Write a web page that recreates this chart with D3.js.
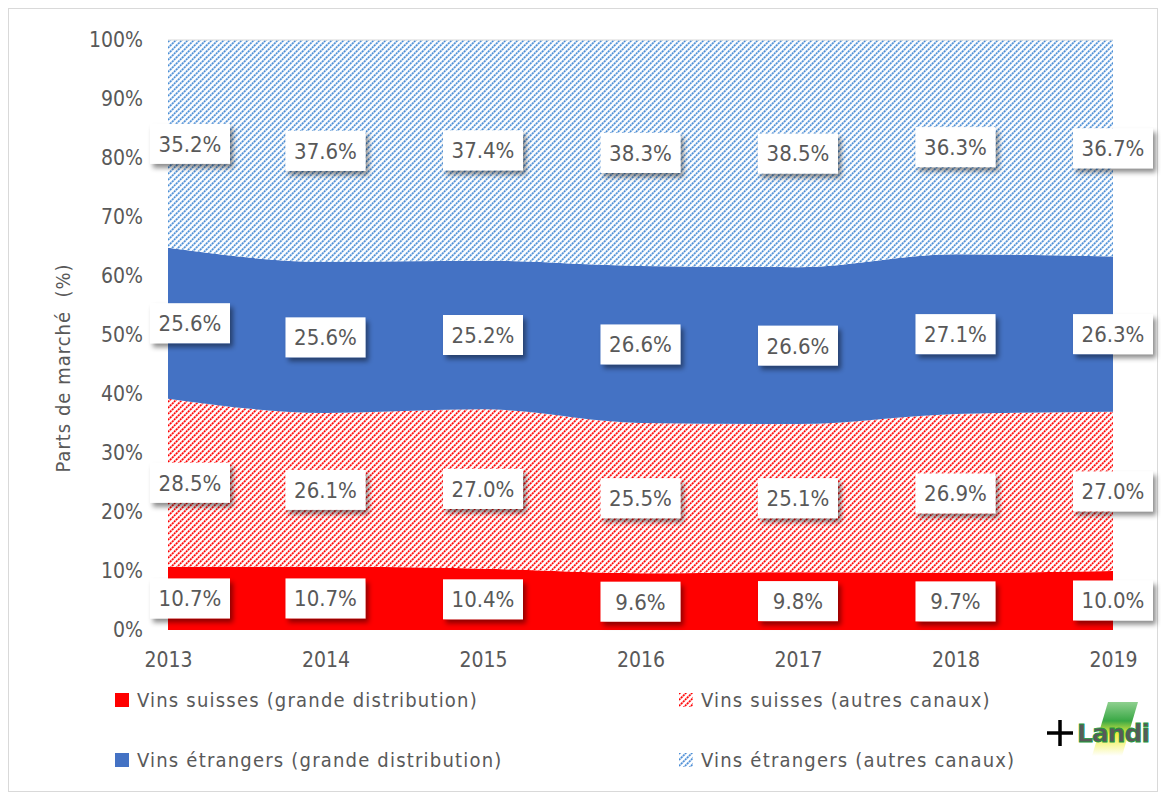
<!DOCTYPE html>
<html>
<head>
<meta charset="utf-8">
<script src="https://cdn.jsdelivr.net/npm/d3@7"></script>
<style>
  body { margin: 0; background: #fff; }
  svg text { font-family: "DejaVu Sans Condensed", "DejaVu Sans", sans-serif; fill: #595959; }
</style>
</head>
<body>
<svg width="1161" height="800"></svg>
<script>
// market share of wine in switzerland, stacked area

var years = ["2013", "2014", "2015", "2016", "2017", "2018", "2019"];
var suissesGrande = [10.7, 10.7, 10.4, 9.6, 9.8, 9.7, 10.0];
var suissesAutres = [28.5, 26.1, 27.0, 25.5, 25.1, 26.9, 27.0];
var etrangersGrande = [25.6, 25.6, 25.2, 26.6, 26.6, 27.1, 26.3];
var etrangersAutres = [35.2, 37.6, 37.4, 38.3, 38.5, 36.3, 36.7];
var seriesNames = ["Vins suisses (grande distribution)", "Vins suisses (autres canaux)",
                   "Vins étrangers (grande distribution)", "Vins étrangers (autres canaux)"];
var yTicks = [0, 10, 20, 30, 40, 50, 60, 70, 80, 90, 100];

var svg = d3.select("svg");

// outer frame
svg.append("rect")
    .attr("x", 8.5).attr("y", 8.5)
    .attr("width", 1149).attr("height", 783)
    .attr("fill", "none").attr("stroke", "#d9d9d9");

var defs = svg.append("defs");

function hatch(id, light, dark) {
    var p = defs.append("pattern")
        .attr("id", id)
        .attr("patternUnits", "userSpaceOnUse")
        .attr("width", 6).attr("height", 6);
    p.append("rect").attr("width", 6).attr("height", 6).attr("fill", "#fff");
    p.append("path")
        .attr("d", "M-1,1 L1,-1 M0,6 L6,0 M5,7 L7,5")
        .attr("stroke", light).attr("stroke-width", 2);
    p.append("path")
        .attr("d", "M0,6 L6,0")
        .attr("stroke", dark).attr("stroke-width", 1.6)
        .attr("stroke-dasharray", "1.5,1.5");
}
hatch("hRed", "#ff9a9a", "#ff0000");
hatch("hBlue", "#b4cfee", "#4a8fd6");

var shadow = defs.append("filter").attr("id", "shadow")
    .attr("x", "-20%").attr("y", "-20%").attr("width", "150%").attr("height", "160%");
shadow.append("feDropShadow")
    .attr("dx", 3).attr("dy", 4).attr("stdDeviation", 2.5)
    .attr("flood-color", "#000").attr("flood-opacity", 0.45);

var fills = ["#ff0000", "url(#hRed)", "#4472c4", "url(#hBlue)"];

// table for d3.stack
var keys = ["sg", "sa", "eg", "ea"];
var table = years.map(function(y, i) {
    return { year: y, sg: suissesGrande[i], sa: suissesAutres[i], eg: etrangersGrande[i], ea: etrangersAutres[i] };
});
var stacked = d3.stack().keys(keys)(table);

var x = d3.scalePoint().domain(years).range([168, 1113]);
var y = d3.scaleLinear().domain([0, 100]).range([630, 40]);

var area = d3.area()
    .x(function(d) { return x(d.data.year); })
    .y0(function(d) { return y(d[0]); })
    .y1(function(d) { return y(d[1]); })
    .curve(d3.curveMonotoneX);

svg.append("g").selectAll("path")
    .data(stacked)
    .enter().append("path")
    .attr("d", area)
    .attr("fill", function(d, i) { return fills[i]; });

// faint line at 100%
svg.append("line")
    .attr("x1", x(years[0])).attr("x2", x(years[years.length - 1]))
    .attr("y1", y(100)).attr("y2", y(100))
    .attr("stroke", "#d9d9d9");

// y axis
var yAxis = svg.append("g")
    .attr("transform", "translate(143,0)")
    .call(d3.axisLeft(y).tickValues(yTicks).tickSize(0).tickPadding(0)
        .tickFormat(function(d) { return d + "%"; }));
yAxis.select(".domain").remove();
yAxis.selectAll("text").style("font-size", "21px").attr("fill", "#595959");

// x axis
var xAxis = svg.append("g")
    .attr("transform", "translate(0,652)")
    .call(d3.axisBottom(x).tickSize(0).tickPadding(0));
xAxis.select(".domain").remove();
xAxis.selectAll("text").style("font-size", "21px").attr("fill", "#595959");

svg.append("text")
    .attr("transform", "translate(70,368) rotate(-90)")
    .attr("text-anchor", "middle")
    .style("font-size", "20px")
    .style("letter-spacing", "1px")
    .style("white-space", "pre")
    .text("Parts de marché  (%)");

// data labels
var labels = [];
stacked.forEach(function(s) {
    s.forEach(function(d, i) {
        labels.push({ x: x(d.data.year), y: y((d[0] + d[1]) / 2), v: d[1] - d[0], i: i });
    });
});

var lab = svg.append("g").selectAll("g")
    .data(labels)
    .enter().append("g")
    .attr("transform", function(d) {
        var cx = d.i === 0 ? 190 : d.x;
        return "translate(" + cx + "," + d.y + ")";
    });
lab.append("rect")
    .attr("x", -40).attr("y", -20)
    .attr("width", 80).attr("height", 40)
    .attr("fill", "#fff")
    .attr("filter", "url(#shadow)");
lab.append("text")
    .attr("text-anchor", "middle")
    .attr("dy", "0.36em")
    .style("font-size", "22px")
    .attr("fill", "#404040")
    .text(function(d) { return d.v.toFixed(1) + "%"; });

// legend
var legPos = [[115, 700], [679, 700], [115, 760], [679, 760]];
var leg = svg.append("g").selectAll("g")
    .data(seriesNames)
    .enter().append("g")
    .attr("transform", function(d, i) { return "translate(" + legPos[i][0] + "," + legPos[i][1] + ")"; });
leg.append("rect")
    .attr("x", 0).attr("y", -7)
    .attr("width", 14).attr("height", 14)
    .attr("fill", function(d, i) { return fills[i]; });
leg.append("text")
    .attr("x", 22)
    .attr("dy", "0.36em")
    .style("font-size", "20px")
    .style("letter-spacing", "1.2px")
    .text(function(d) { return d; });

// landi logo
var logo = svg.append("g").attr("transform", "translate(1045,700)");
var grad = defs.append("linearGradient").attr("id", "stripe")
    .attr("x1", 0).attr("y1", 0).attr("x2", 0).attr("y2", 1);
grad.append("stop").attr("offset", "0%").attr("stop-color", "#8fd08f");
grad.append("stop").attr("offset", "35%").attr("stop-color", "#3aa845");
grad.append("stop").attr("offset", "60%").attr("stop-color", "#f0f040");
grad.append("stop").attr("offset", "100%").attr("stop-color", "#ffffff");
logo.append("path")
    .attr("d", "M63,2 L93,2 L77,56 L47,56 Z")
    .attr("fill", "url(#stripe)");
logo.append("path")
    .attr("d", "M2,33 L28,33 M15,20 L15,46")
    .attr("stroke", "#000").attr("stroke-width", 3.5);
logo.append("text")
    .attr("x", 32).attr("y", 42)
    .style("font-family", "DejaVu Sans, sans-serif")
    .style("font-weight", "bold")
    .style("font-size", "25px")
    .style("letter-spacing", "-1px")
    .style("stroke", "#1b9a3c").style("stroke-width", "0.8px")
    .attr("fill", "#1b9a3c")
    .text("Landi");
</script>
</body>
</html>
